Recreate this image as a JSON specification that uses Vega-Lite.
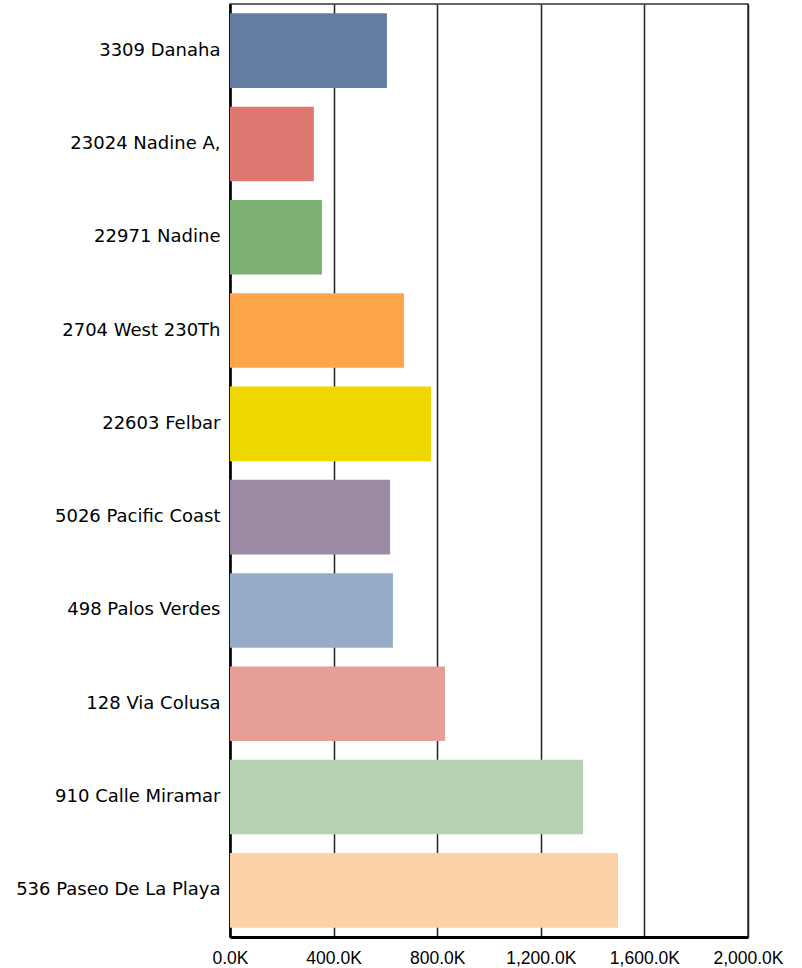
{
  "$schema": "https://vega.github.io/schema/vega-lite/v6.json",
  "width": 518,
  "height": 933,
  "autosize": {"type": "none"},
  "padding": {"left": 230, "top": 4, "right": 54, "bottom": 31},
  "background": "white",
  "config": {
    "view": {"stroke": "#333333", "strokeWidth": 1.5},
    "font": "DejaVu Sans"
  },
  "data": {
    "values": [
      {"address": "3309 Danaha", "value": 606000},
      {"address": "23024 Nadine A,", "value": 324000},
      {"address": "22971 Nadine", "value": 355000},
      {"address": "2704 West 230Th", "value": 672000},
      {"address": "22603 Felbar", "value": 776000},
      {"address": "5026 Pacific Coast", "value": 618000},
      {"address": "498 Palos Verdes", "value": 629000},
      {"address": "128 Via Colusa", "value": 830000},
      {"address": "910 Calle Miramar", "value": 1363000},
      {"address": "536 Paseo De La Playa", "value": 1498000}
    ]
  },
  "mark": {"type": "bar"},
  "encoding": {
    "y": {
      "field": "address",
      "type": "nominal",
      "sort": null,
      "scale": {"paddingInner": 0.2, "paddingOuter": 0.1},
      "axis": {
        "title": null,
        "ticks": false,
        "labelPadding": 10,
        "labelFontSize": 18,
        "labelLimit": 300,
        "labelColor": "#000000",
        "labelFont": "DejaVu Sans",
        "domainColor": "#000000",
        "domainWidth": 2.5,
        "grid": false
      }
    },
    "x": {
      "field": "value",
      "type": "quantitative",
      "scale": {"domain": [0, 2000000], "nice": false},
      "axis": {
        "title": null,
        "values": [0, 400000, 800000, 1200000, 1600000, 2000000],
        "labelExpr": "format(datum.value/1000, ',.1f') + 'K'",
        "ticks": false,
        "labelPadding": 12,
        "labelFontSize": 17.5,
        "labelColor": "#000000",
        "labelFont": "Liberation Sans",
        "labelFlush": false,
        "domainColor": "#000000",
        "domainWidth": 3,
        "grid": true,
        "gridColor": "#222222",
        "gridWidth": 1.5,
        "gridOpacity": 1
      }
    },
    "color": {
      "field": "address",
      "type": "nominal",
      "sort": null,
      "legend": null,
      "scale": {
        "domain": ["3309 Danaha", "23024 Nadine A,", "22971 Nadine", "2704 West 230Th", "22603 Felbar", "5026 Pacific Coast", "498 Palos Verdes", "128 Via Colusa", "910 Calle Miramar", "536 Paseo De La Playa"],
        "range": ["#647ea3", "#e07872", "#7db174", "#ffa64d", "#efd700", "#9d8aa5", "#96abc7", "#e69e96", "#b5d3b0", "#fdd2a5"]
      }
    }
  }
}
